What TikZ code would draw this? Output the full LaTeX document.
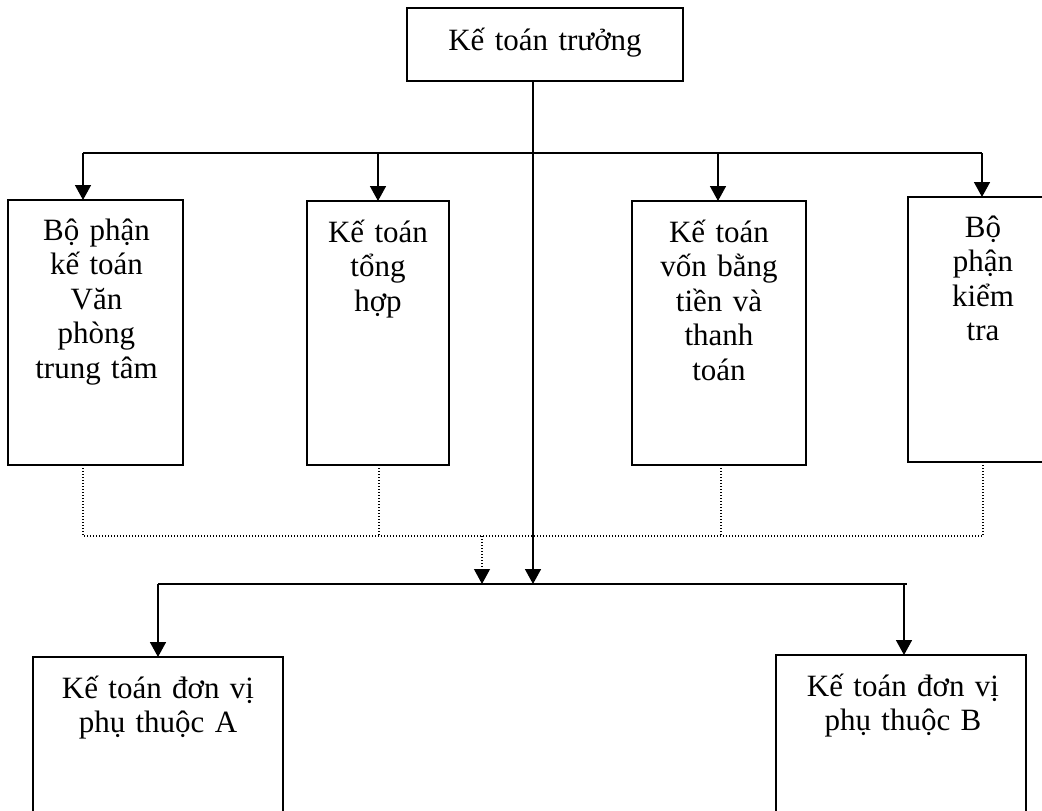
\documentclass[tikz,border=0pt]{standalone}
\usepackage{fontspec}
\setmainfont{Liberation Serif}
\usetikzlibrary{arrows.meta}
\tikzset{
  box/.style={draw, line width=1.6pt, inner sep=0pt, outer sep=0pt, anchor=north west},
  lbl/.style={font=\fontsize{31}{34.5}\selectfont, align=center, text width=240pt, inner sep=0pt, anchor=base},
  link/.style={line width=1.6pt},
  arr/.style={line width=1.6pt, -{Triangle[width=16pt,length=15pt]}},
  dots/.style={line width=1.1pt, dash pattern=on 1pt off 2pt},
  darr/.style={dots, -{Triangle[width=16pt,length=15pt]}}
}
\begin{document}
\begin{tikzpicture}[x=1pt,y=-1pt]
\useasboundingbox (0,0) rectangle (1042,811);

% boxes
\node[box, minimum width=276pt, minimum height=73pt] (top) at (407,8) {};
\node[box, minimum width=175pt, minimum height=265pt] (b1) at (8,200) {};
\node[box, minimum width=142pt, minimum height=264pt] (b2) at (307,201) {};
\node[box, minimum width=174pt, minimum height=264pt] (b3) at (632,201) {};
\node[box, minimum width=150pt, minimum height=265pt] (b4) at (908,197) {};
\node[box, minimum width=250pt, minimum height=190pt] (ba) at (33,657) {};
\node[box, minimum width=250pt, minimum height=190pt] (bb) at (776,655) {};

% labels
\node[lbl] (ttop) at ([yshift=-42pt]top.north) {Kế toán trưởng};
\node[lbl] (t1) at ([yshift=-40pt,xshift=1pt]b1.north) {Bộ phận\\kế toán\\Văn\\phòng\\trung tâm};
\node[lbl] (t2) at ([yshift=-41pt]b2.north) {Kế toán\\tổng\\hợp};
\node[lbl] (t3) at ([yshift=-41pt]b3.north) {Kế toán\\vốn bằng\\tiền và\\thanh\\toán};
\node[lbl] (t4) at ([yshift=-40pt]b4.north -| 983,0) {Bộ\\phận\\kiểm\\tra};
\node[lbl] (ta) at ([yshift=-41pt]ba.north) {Kế toán đơn vị\\phụ thuộc A};
\node[lbl] (tb) at ([yshift=-41pt,xshift=2pt]bb.north) {Kế toán đơn vị\\phụ thuộc B};

% upper distribution bar
\coordinate (u1) at (83,153);
\coordinate (u2) at (378,153);
\coordinate (u3) at (718,153);
\coordinate (u4) at (982,153);
\draw[link] (u1) -- (u4);
\draw[arr] (u1) -- (u1 |- b1.north);
\draw[arr] (u2) -- (u2 |- b2.north);
\draw[arr] (u3) -- (u3 |- b3.north);
\draw[arr] (u4) -- (u4 |- b4.north);

% lower distribution bar
\coordinate (jc) at (533,584);
\coordinate (jd) at (482,584);
\coordinate (la) at (158,584);
\coordinate (lb) at (904,584);
\draw[arr] (top.south -| jc) -- (jc);
\draw[link] (la) -- ([xshift=3pt]lb);
\draw[arr] (la) -- (la |- ba.north);
\draw[arr] (lb) -- (lb |- bb.north);

% dotted links from the four sections
\coordinate (d1) at (83,536);
\coordinate (d2) at (379,536);
\coordinate (d3) at (721,536);
\coordinate (d4) at (983,536);
\coordinate (dm) at (482,536);
\draw[dots] (d1 |- b1.south) -- (d1) -- (d4) -- (d4 |- b4.south);
\draw[dots] (d2 |- b2.south) -- (d2);
\draw[dots] (d3 |- b3.south) -- (d3);
\draw[darr] (dm) -- (jd);
\end{tikzpicture}
\end{document}
